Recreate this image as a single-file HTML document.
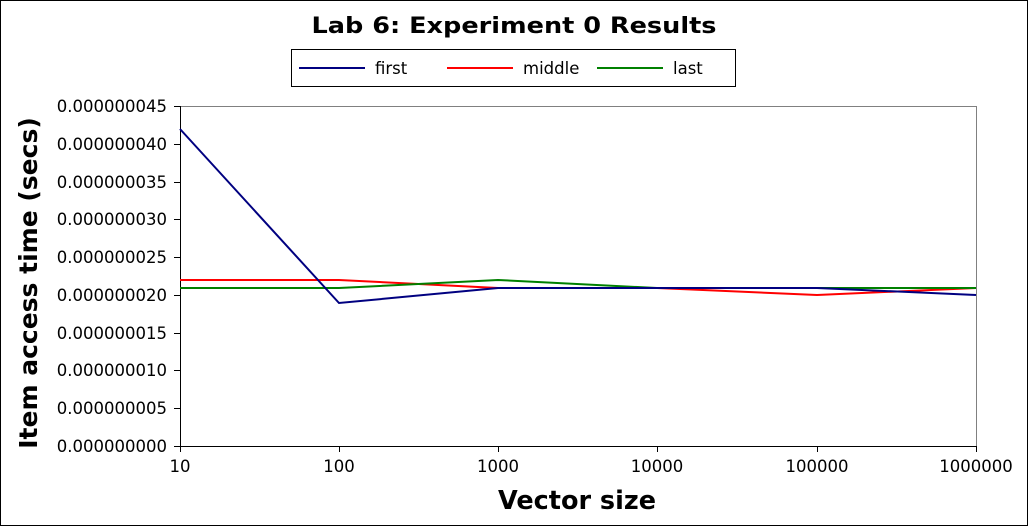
<!DOCTYPE html>
<html><head><style>body{margin:0;background:#fff}</style></head><body>
<svg width="1028" height="526" xmlns="http://www.w3.org/2000/svg" font-family="DejaVu Sans, sans-serif">
<rect x="0.5" y="0.5" width="1027" height="525" fill="#fff" stroke="#000"/>
<text x="514" y="33" text-anchor="middle" font-size="22" font-weight="bold" textLength="405" lengthAdjust="spacingAndGlyphs">Lab 6: Experiment 0 Results</text>
<rect x="291.5" y="49.5" width="444" height="37" fill="#fff" stroke="#000"/>
<line x1="299" y1="68" x2="365" y2="68" stroke="#000080" stroke-width="2"/>
<text x="375" y="74" font-size="16.5">first</text>
<line x1="447" y1="68" x2="513" y2="68" stroke="#ff0000" stroke-width="2"/>
<text x="523" y="74" font-size="16.5">middle</text>
<line x1="597" y1="68" x2="663" y2="68" stroke="#008000" stroke-width="2"/>
<text x="673" y="74" font-size="16.5">last</text>
<polyline points="180,106.5 976.5,106.5 976.5,446" fill="none" stroke="#808080"/>
<g stroke="#000">
<line x1="180.5" y1="106" x2="180.5" y2="452"/>
<line x1="174" y1="446.5" x2="977" y2="446.5"/>
<line x1="174" y1="106.5" x2="180" y2="106.5"/><line x1="174" y1="144.5" x2="180" y2="144.5"/>
<line x1="174" y1="182.5" x2="180" y2="182.5"/><line x1="174" y1="219.5" x2="180" y2="219.5"/>
<line x1="174" y1="257.5" x2="180" y2="257.5"/><line x1="174" y1="295.5" x2="180" y2="295.5"/>
<line x1="174" y1="333.5" x2="180" y2="333.5"/><line x1="174" y1="370.5" x2="180" y2="370.5"/>
<line x1="174" y1="408.5" x2="180" y2="408.5"/>
<line x1="339.5" y1="446" x2="339.5" y2="452"/><line x1="498.5" y1="446" x2="498.5" y2="452"/>
<line x1="657.5" y1="446" x2="657.5" y2="452"/><line x1="817.5" y1="446" x2="817.5" y2="452"/>
<line x1="976.5" y1="446" x2="976.5" y2="452"/>
</g>
<g font-size="16.5" text-anchor="end">
<text x="167" y="112">0.000000045</text><text x="167" y="150">0.000000040</text>
<text x="167" y="188">0.000000035</text><text x="167" y="225">0.000000030</text>
<text x="167" y="263">0.000000025</text><text x="167" y="301">0.000000020</text>
<text x="167" y="339">0.000000015</text><text x="167" y="376">0.000000010</text>
<text x="167" y="414">0.000000005</text><text x="167" y="452">0.000000000</text>
</g>
<g font-size="16.5" text-anchor="middle">
<text x="180" y="472">10</text><text x="339" y="472">100</text><text x="498" y="472">1000</text>
<text x="657" y="472">10000</text><text x="817" y="472">100000</text><text x="976" y="472">1000000</text>
</g>
<text x="577" y="509" text-anchor="middle" font-size="25.5" font-weight="bold">Vector size</text>
<text transform="translate(37,283) rotate(-90)" text-anchor="middle" font-size="25" font-weight="bold">Item access time (secs)</text>
<polyline fill="none" stroke="#ff0000" stroke-width="2" points="180,280 339,280 498,288 657,288 817,295 976,288"/>
<polyline fill="none" stroke="#008000" stroke-width="2" points="180,288 339,288 498,280 657,288 817,288 976,288"/>
<polyline fill="none" stroke="#000080" stroke-width="2" points="180,129 339,303 498,288 657,288 817,288 976,295"/>
</svg>
</body></html>
